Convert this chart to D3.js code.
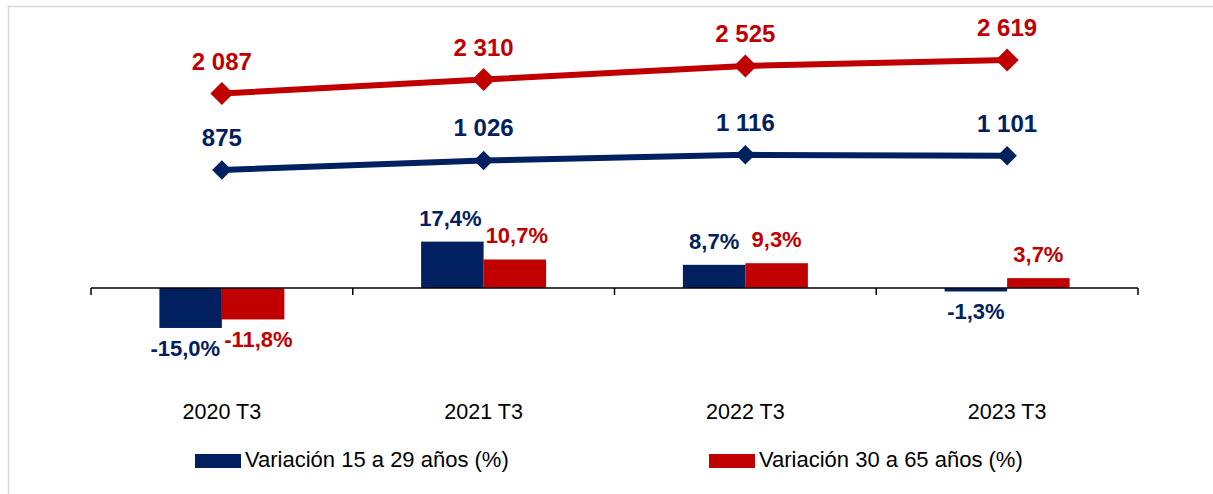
<!DOCTYPE html>
<html>
<head>
<meta charset="utf-8">
<script src="https://cdn.jsdelivr.net/npm/d3@7"></script>
<style>
  html, body { margin: 0; padding: 0; background: #fff; }
  svg { display: block; font-family: "Liberation Sans", Arial, sans-serif; }
</style>
</head>
<body>
<div id="chart"></div>
<script>
// Data
const categories = ['2020 T3', '2021 T3', '2022 T3', '2023 T3'];
const seriesNames = ['Variación 15 a 29 años (%)', 'Variación 30 a 65 años (%)'];
const varYoung = [-15.0, 17.4, 8.7, -1.3];
const varAdult = [-11.8, 10.7, 9.3, 3.7];
const lineYoung = [875, 1026, 1116, 1101];
const lineAdult = [2087, 2310, 2525, 2619];

const colours = ['#002060', '#C00000'];

const width = 1213;
const height = 494;

// Spanish number format: decimal comma, space for thousands, plain hyphen
const locale = d3.formatLocale({
  decimal: ',', thousands: ' ', grouping: [3], currency: ['', ''], minus: '-',
});
const fmtPct = v => locale.format('.1f')(v) + '%';
const fmtNum = locale.format(',');

const svg = d3.select('#chart')
  .append('svg')
  .attr('width', width)
  .attr('height', height);

// Chart frame (light grey border, runs past the picture edge)
svg.append('rect')
  .attr('x', 8.5)
  .attr('y', 6.5)
  .attr('width', 1400)
  .attr('height', 800)
  .attr('fill', 'none')
  .attr('stroke', '#d9d9d9')
  .attr('stroke-width', 1.5);

// Scales
const x0 = d3.scaleBand()
  .domain(categories)
  .range([91, 1138])
  .paddingInner(0.5225)
  .paddingOuter(0.26125);

const x1 = d3.scaleBand()
  .domain(seriesNames)
  .range([0, x0.bandwidth()]);

const yBar = d3.scaleLinear().domain([-20, 20]).range([341.3, 234.7]);
const yLine = d3.scaleLinear().domain([0, 3000]).range([225.2, 36]);

// Bars
const barData = categories.flatMap((c, i) => [
  { cat: c, s: 0, v: varYoung[i] },
  { cat: c, s: 1, v: varAdult[i] },
]);

const barCentre = d => x0(d.cat) + x1(seriesNames[d.s]) + x1.bandwidth() / 2;

const bars = svg.append('g');
bars.selectAll('rect')
  .data(barData)
  .enter().append('rect')
  .attr('x', d => x0(d.cat) + x1(seriesNames[d.s]))
  .attr('width', x1.bandwidth())
  .attr('y', d => yBar(Math.max(0, d.v)))
  .attr('height', d => Math.abs(yBar(d.v) - yBar(0)))
  .attr('fill', d => colours[d.s]);

const barLabels = bars.selectAll('text')
  .data(barData)
  .enter().append('text')
  .attr('x', barCentre)
  .attr('y', d => (d.v >= 0 ? yBar(d.v) - 16 : yBar(d.v) + 28))
  .attr('text-anchor', 'middle')
  .attr('font-size', '22px')
  .attr('font-weight', 'bold')
  .attr('fill', d => colours[d.s])
  .text(d => fmtPct(d.v));

// Push apart paired labels that would collide (same category, same side)
categories.forEach(c => {
  const pair = barLabels.filter(d => d.cat === c).nodes();
  const [a, b] = pair;
  const da = d3.select(a).datum();
  const db = d3.select(b).datum();
  if ((da.v < 0) !== (db.v < 0)) return;
  const ba = a.getBBox();
  const bb = b.getBBox();
  const vOverlap = Math.min(ba.y + ba.height, bb.y + bb.height) - Math.max(ba.y, bb.y);
  const overlap = ba.x + ba.width + 4 - bb.x;
  if (overlap > 0 && vOverlap > 0) {
    d3.select(a).attr('x', barCentre(da) - overlap / 2);
    d3.select(b).attr('x', barCentre(db) + overlap / 2);
  }
});

// Category axis at zero
const axis = svg.append('g');
axis.append('line')
  .attr('x1', x0.range()[0])
  .attr('x2', x0.range()[1])
  .attr('y1', yBar(0))
  .attr('y2', yBar(0))
  .attr('stroke', '#000')
  .attr('stroke-width', 1.5);

const tickX = categories.map(c => x0(c) - (x0.step() - x0.bandwidth()) / 2)
  .concat([x0.range()[1]]);
axis.selectAll('.tick')
  .data(tickX)
  .enter().append('line')
  .attr('x1', d => d)
  .attr('x2', d => d)
  .attr('y1', yBar(0))
  .attr('y2', yBar(0) + 7)
  .attr('stroke', '#000')
  .attr('stroke-width', 1.5);

axis.selectAll('.cat')
  .data(categories)
  .enter().append('text')
  .attr('x', d => x0(d) + x0.bandwidth() / 2)
  .attr('y', 419)
  .attr('text-anchor', 'middle')
  .attr('font-size', '21.5px')
  .attr('fill', '#000')
  .text(d => d);

// Lines with diamond markers
const lineSeries = [
  { values: lineAdult, colour: colours[1], marker: 265 },
  { values: lineYoung, colour: colours[0], marker: 190 },
];

const lineGen = d3.line()
  .x((d, i) => x0(categories[i]) + x0.bandwidth() / 2)
  .y(d => yLine(d));

lineSeries.forEach(s => {
  const g = svg.append('g');
  g.append('path')
    .datum(s.values)
    .attr('d', lineGen)
    .attr('fill', 'none')
    .attr('stroke', s.colour)
    .attr('stroke-width', 6)
    .attr('stroke-linejoin', 'round');

  g.selectAll('path.marker')
    .data(s.values)
    .enter().append('path')
    .attr('class', 'marker')
    .attr('d', d3.symbol(d3.symbolSquare, s.marker))
    .attr('transform', (d, i) =>
      `translate(${x0(categories[i]) + x0.bandwidth() / 2},${yLine(d)})rotate(45)`)
    .attr('fill', s.colour);

  g.selectAll('text')
    .data(s.values)
    .enter().append('text')
    .attr('x', (d, i) => x0(categories[i]) + x0.bandwidth() / 2)
    .attr('y', d => yLine(d) - 24)
    .attr('text-anchor', 'middle')
    .attr('font-size', '24px')
    .attr('font-weight', 'bold')
    .attr('fill', s.colour)
    .text(d => fmtNum(d));
});

// Legend
const legendX = [195, 709];
const legend = svg.append('g');
seriesNames.forEach((name, i) => {
  legend.append('rect')
    .attr('x', legendX[i])
    .attr('y', 454)
    .attr('width', 46)
    .attr('height', 14)
    .attr('fill', colours[i]);
  legend.append('text')
    .attr('x', legendX[i] + 50)
    .attr('y', 467)
    .attr('font-size', '22px')
    .attr('fill', '#000')
    .text(name);
});
</script>
</body>
</html>
